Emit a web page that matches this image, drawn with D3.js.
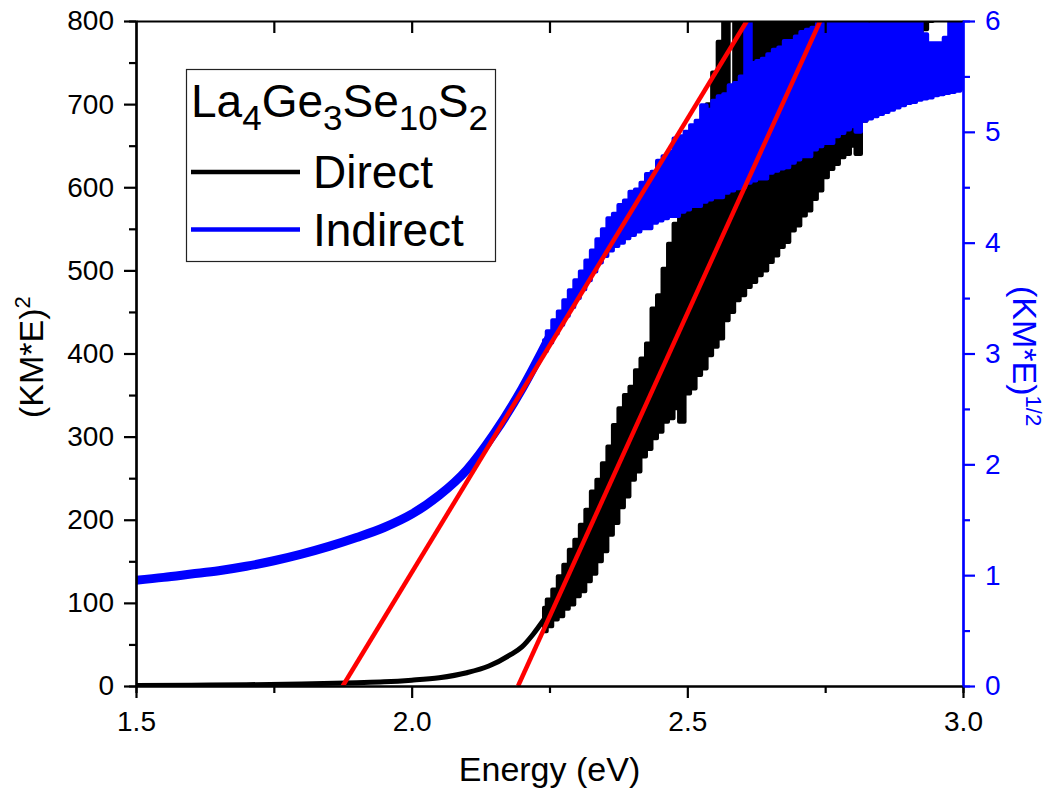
<!DOCTYPE html>
<html>
<head>
<meta charset="utf-8">
<script src="https://cdn.jsdelivr.net/npm/d3@7"></script>
<style>
  body { margin: 0; background: #fff; }
  svg text { font-family: "Liberation Sans", Arial, sans-serif; }
</style>
</head>
<body>
<svg id="chart"></svg>
<script>
let width = 1052;
let height = 800;
let margin = { top: 21, right: 89, bottom: 114, left: 136 };

// ---- data ----
// Direct (KM*E)^2, left axis: smooth start
const directSmoothE = [1.50, 1.60, 1.70, 1.80, 1.90, 1.95, 2.00, 2.05, 2.10, 2.14, 2.18, 2.20, 2.22, 2.24];
const directSmooth = [0.5, 1, 1.5, 2.5, 4, 5, 7, 10, 16, 24, 38, 47, 62, 80];

// Indirect (KM*E)^1/2, right axis: smooth start
const indirectSmoothE = [1.50, 1.55, 1.60, 1.65, 1.70, 1.75, 1.80, 1.85, 1.90, 1.95, 2.00, 2.05, 2.10, 2.15, 2.20, 2.25];
const indirectSmooth = [0.955, 0.98, 1.01, 1.04, 1.08, 1.13, 1.19, 1.26, 1.34, 1.43, 1.55, 1.72, 1.95, 2.28, 2.68, 3.15];

// noisy part: per 0.01 eV bin, lowest and highest reading
const noisyE = [2.24, 2.25, 2.26, 2.27, 2.28, 2.29, 2.30, 2.31, 2.32, 2.33, 2.34, 2.35, 2.36, 2.37, 2.38, 2.39,
  2.40, 2.41, 2.42, 2.43, 2.44, 2.45, 2.46, 2.47, 2.48, 2.49, 2.50, 2.51, 2.52, 2.53, 2.54, 2.55, 2.56, 2.57, 2.58, 2.59,
  2.60, 2.61, 2.62, 2.63, 2.64, 2.65, 2.66, 2.67, 2.68, 2.69, 2.70, 2.71, 2.72, 2.73, 2.74, 2.75, 2.76, 2.77, 2.78, 2.79,
  2.80, 2.81, 2.82, 2.83, 2.84, 2.85, 2.86, 2.87, 2.88, 2.89, 2.90, 2.91, 2.92, 2.93, 2.94, 2.95, 2.96, 2.97, 2.98, 2.99, 3.00];

const directLow = [66, 72, 80, 84, 93, 98, 108, 114, 126, 135, 150, 162, 182, 196, 215, 228,
  248, 258, 276, 285, 298, 306, 318, 322, 334, 318, 352, 358, 374, 382, 398, 408, 418, 440, 450, 464,
  470, 480, 486, 494, 500, 510, 518, 528, 534, 548, 554, 566, 572, 586, 596, 612, 622, 628, 636, 640,
  650, 640, 680, 690, 700, 710, 720, 730, 740, 750, 760, 770, 780, 790, 800, 810, 820, 830, 840, 850, 860];
const directHigh = [94, 104, 116, 132, 146, 164, 176, 194, 212, 234, 248, 268, 288, 314, 334, 350,
  360, 380, 394, 412, 454, 470, 502, 532, 556, 584, 600, 624, 640, 672, 700, 738, 775, 900, 670, 900,
  900, 900, 900, 900, 900, 900, 900, 900, 900, 900, 900, 900, 900, 900, 900, 900, 900, 900, 900, 900,
  900, 900, 900, 900, 900, 900, 900, 900, 900, 900, 900, 900, 900, 900, 900, 900, 900, 900, 900, 900, 900];

const indirectLow = [3.02, 3.10, 3.18, 3.26, 3.34, 3.42, 3.50, 3.58, 3.66, 3.74, 3.82, 3.88, 3.93, 3.97, 4.00, 4.04,
  4.07, 4.10, 4.13, 4.13, 4.18, 4.20, 4.22, 4.24, 4.24, 4.28, 4.30, 4.33, 4.33, 4.37, 4.39, 4.41, 4.41, 4.45, 4.47, 4.49,
  4.50, 4.54, 4.56, 4.58, 4.58, 4.63, 4.65, 4.67, 4.68, 4.72, 4.75, 4.78, 4.78, 4.84, 4.87, 4.90, 4.90, 4.96, 4.99, 5.02,
  5.05, 5.00, 5.10, 5.12, 5.14, 5.16, 5.18, 5.20, 5.22, 5.24, 5.26, 5.27, 5.29, 5.30, 5.31, 5.33, 5.34, 5.35, 5.36, 5.37, 5.39];
const indirectHigh = [3.12, 3.20, 3.30, 3.38, 3.48, 3.57, 3.66, 3.74, 3.84, 3.93, 4.03, 4.12, 4.22, 4.26, 4.34, 4.38,
  4.46, 4.48, 4.54, 4.62, 4.64, 4.74, 4.78, 4.82, 4.94, 4.96, 5.00, 5.06, 5.10, 5.24, 5.20, 5.28, 5.32, 5.34, 5.42, 5.44,
  5.50, 6.00, 5.62, 5.64, 5.66, 5.70, 5.74, 5.76, 5.82, 5.82, 5.86, 5.90, 5.92, 5.94, 5.98, 6.00, 6.00, 6.00, 6.00, 6.00,
  6.00, 6.00, 6.00, 5.97, 6.00, 6.00, 6.00, 6.00, 6.00, 6.00, 6.00, 6.00, 6.00, 5.88, 5.80, 5.80, 5.80, 5.85, 6.00, 6.00, 6.00];

// linear fits (red), endpoints [energy, value]
const directFit = [[2.193, 0], [2.741, 800]];
const indirectFit = [[1.875, 0], [2.608, 6]];

const xTicks = [1.5, 2.0, 2.5, 3.0];
const xMinor = [1.75, 2.25, 2.75];
const topTicks = [1.75, 2.0, 2.25, 2.5, 2.75];
const leftTicks = [0, 100, 200, 300, 400, 500, 600, 700, 800];
const leftMinor = [50, 150, 250, 350, 450, 550, 650, 750];
const rightTicks = [0, 1, 2, 3, 4, 5, 6];
const rightMinor = [0.5, 1.5, 2.5, 3.5, 4.5, 5.5];

const BLUE = '#0000FF';
const RED = '#FF0000';

let svg = d3.select('#chart')
  .attr('width', width)
  .attr('height', height);

let x = d3.scaleLinear()
  .domain([1.5, 3.0])
  .range([margin.left, width - margin.right]);

let yL = d3.scaleLinear()
  .domain([0, 800])
  .range([height - margin.bottom, margin.top]);

let yR = d3.scaleLinear()
  .domain([0, 6])
  .range([height - margin.bottom, margin.top]);

svg.append('defs').append('clipPath')
  .attr('id', 'plot-clip')
  .append('rect')
  .attr('x', margin.left)
  .attr('y', margin.top)
  .attr('width', width - margin.left - margin.right)
  .attr('height', height - margin.top - margin.bottom);

let plot = svg.append('g').attr('clip-path', 'url(#plot-clip)');

// direct (black)
plot.append('path')
  .datum(directSmoothE.map((e, i) => [e, directSmooth[i]]))
  .attr('fill', 'none')
  .attr('stroke', '#000')
  .attr('stroke-width', 5)
  .attr('d', d3.line().x(d => x(d[0])).y(d => yL(d[1])).curve(d3.curveMonotoneX));

plot.append('path')
  .datum(noisyE.map((e, i) => [e, directLow[i], directHigh[i]]))
  .attr('fill', '#000')
  .attr('stroke', '#000')
  .attr('stroke-width', 4)
  .attr('stroke-linejoin', 'round')
  .attr('d', d3.area().x(d => x(d[0])).y0(d => yL(d[1])).y1(d => yL(d[2])).curve(d3.curveStep));

// indirect (blue)
plot.append('path')
  .datum(indirectSmoothE.map((e, i) => [e, indirectSmooth[i]]))
  .attr('fill', 'none')
  .attr('stroke', BLUE)
  .attr('stroke-width', 9)
  .attr('d', d3.line().x(d => x(d[0])).y(d => yR(d[1])).curve(d3.curveMonotoneX));

plot.append('path')
  .datum(noisyE.map((e, i) => [e, indirectLow[i], indirectHigh[i]]))
  .attr('fill', BLUE)
  .attr('stroke', BLUE)
  .attr('stroke-width', 4)
  .attr('stroke-linejoin', 'round')
  .attr('d', d3.area().x(d => x(d[0])).y0(d => yR(d[1])).y1(d => yR(d[2])).curve(d3.curveStep));

// fits
plot.append('line')
  .attr('x1', x(directFit[0][0])).attr('y1', yL(directFit[0][1]))
  .attr('x2', x(directFit[1][0])).attr('y2', yL(directFit[1][1]))
  .attr('stroke', RED).attr('stroke-width', 4.5);

plot.append('line')
  .attr('x1', x(indirectFit[0][0])).attr('y1', yR(indirectFit[0][1]))
  .attr('x2', x(indirectFit[1][0])).attr('y2', yR(indirectFit[1][1]))
  .attr('stroke', RED).attr('stroke-width', 4.5);

// ---- axes ----
function styleAxis(g, color) {
  g.selectAll('.domain').attr('stroke', color).attr('stroke-width', 2.2);
  g.selectAll('.tick line').attr('stroke', color).attr('stroke-width', 2.2);
  g.selectAll('.tick text').attr('fill', color).attr('font-size', 28)
    .attr('font-family', '"Liberation Sans", Arial, sans-serif');
}

let bottom = height - margin.bottom;
let right = width - margin.right;

// minor ticks first
svg.append('g')
  .attr('transform', `translate(0,${bottom})`)
  .call(d3.axisBottom(x).tickValues(xMinor).tickSize(7).tickFormat(''))
  .call(g => styleAxis(g, '#000'));
svg.append('g')
  .attr('transform', `translate(${margin.left},0)`)
  .call(d3.axisLeft(yL).tickValues(leftMinor).tickSize(7).tickFormat(''))
  .call(g => styleAxis(g, '#000'));
svg.append('g')
  .attr('transform', `translate(${right},0)`)
  .call(d3.axisRight(yR).tickValues(rightMinor).tickSize(7).tickFormat(''))
  .call(g => styleAxis(g, BLUE));

// top axis, inward ticks
svg.append('g')
  .attr('transform', `translate(0,${margin.top})`)
  .call(d3.axisBottom(x).tickValues(topTicks).tickSize(12).tickSizeOuter(0).tickFormat(''))
  .call(g => styleAxis(g, '#000'));

svg.append('g')
  .attr('transform', `translate(0,${bottom})`)
  .call(d3.axisBottom(x).tickValues(xTicks).tickSize(12).tickSizeOuter(0).tickPadding(13).tickFormat(d3.format('.1f')))
  .call(g => styleAxis(g, '#000'));

svg.append('g')
  .attr('transform', `translate(${margin.left},0)`)
  .call(d3.axisLeft(yL).tickValues(leftTicks).tickSize(12).tickSizeOuter(0).tickPadding(10))
  .call(g => styleAxis(g, '#000'));

svg.append('g')
  .attr('transform', `translate(${right},0)`)
  .call(d3.axisRight(yR).tickValues(rightTicks).tickSize(12).tickSizeOuter(0).tickPadding(10).tickFormat(d3.format('d')))
  .call(g => styleAxis(g, BLUE));

// axis titles
svg.append('text')
  .attr('x', (margin.left + right) / 2)
  .attr('y', 781)
  .attr('text-anchor', 'middle')
  .attr('font-size', 34)
  .text('Energy (eV)');

let yTitle = svg.append('text')
  .attr('transform', 'translate(43,418) rotate(-90)')
  .attr('font-size', 34);
yTitle.append('tspan').text('(KM*E)');
yTitle.append('tspan').attr('dy', -13).attr('font-size', 22).text('2');

let rTitle = svg.append('text')
  .attr('transform', 'translate(1013,286) rotate(90)')
  .attr('font-size', 34)
  .attr('fill', BLUE);
rTitle.append('tspan').text('(KM*E)');
rTitle.append('tspan').attr('dy', -13).attr('font-size', 22).text('1/2');

// ---- legend ----
let legend = svg.append('g');
legend.append('rect')
  .attr('x', 186.5).attr('y', 69.5)
  .attr('width', 309).attr('height', 192)
  .attr('fill', '#fff')
  .attr('stroke', '#222')
  .attr('stroke-width', 1.2);

let lt = legend.append('text')
  .attr('x', 191).attr('y', 117);
const formula = [['La', '4'], ['Ge', '3'], ['Se', '10'], ['S', '2']];
formula.forEach((p, i) => {
  lt.append('tspan').attr('dy', i === 0 ? 0 : -13).attr('font-size', 46).text(p[0]);
  lt.append('tspan').attr('dy', 13).attr('font-size', 35).text(p[1]);
});

const legendItems = [['Direct', '#000', 172], ['Indirect', BLUE, 229.5]];
legendItems.forEach(item => {
  legend.append('line')
    .attr('x1', 191).attr('x2', 300)
    .attr('y1', item[2]).attr('y2', item[2])
    .attr('stroke', item[1]).attr('stroke-width', 4.5);
  legend.append('text')
    .attr('x', 313).attr('y', item[2] + 16)
    .attr('font-size', 46)
    .text(item[0]);
});
</script>
</body>
</html>
